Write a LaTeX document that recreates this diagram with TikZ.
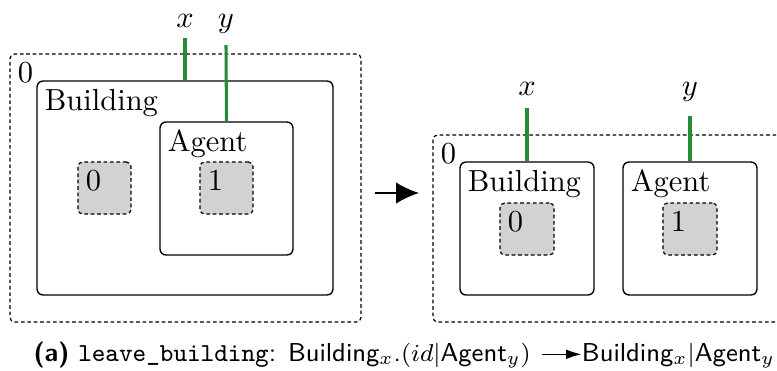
\documentclass[tikz,border=0pt]{standalone}
\usepackage{amsmath}
\usepackage{xcolor}
\usepackage{tikz}
\usetikzlibrary{shapes,arrows.meta,positioning,fit}
\definecolor{linkgreen}{RGB}{36,140,52}
\tikzstyle{region} = [draw, dash pattern=on 1.2pt off 0.9pt, rounded corners=1.5pt,
    inner sep=0pt, line width=0.4pt]
\tikzstyle{control} = [draw, rounded corners=2pt, inner sep=0pt, line width=0.45pt]
\tikzstyle{site} = [draw, fill=gray!35, dash pattern=on 1.2pt off 0.9pt,
    rounded corners=1.5pt, inner sep=0pt, line width=0.4pt]
\tikzstyle{tag} = [anchor=north west, inner sep=2.6pt, font=\fontsize{10}{12}\selectfont]
\tikzstyle{linkname} = [anchor=base, inner sep=0pt, font=\fontsize{10}{12}\selectfont]
\tikzstyle{link} = [draw, linkgreen, line width=1pt]
\tikzstyle{arrow} = [draw, -{Latex[length=7.5pt,width=7pt]}, line width=0.5pt]
\tikzstyle{caption} = [inner sep=0pt, font=\fontsize{8.5}{10}\sffamily]
\tikzstyle{capArrow} = [draw, -{Latex[length=5pt,width=3.2pt]}, line width=0.4pt]

\begin{document}
\begin{tikzpicture}[x=0.328pt, y=-0.328pt]
    \useasboundingbox (0,0) rectangle (777,370);
    % left: agent inside building
    \node [region, fit={(10,54) (361,322)}] (outerLeft) {};
    \node [tag] at (outerLeft.north west) {0};
    \node [control, fit={(37,81) (333,295)}] (buildingLeft) {};
    \node [tag] at (buildingLeft.north west) {Building};
    \node [control, fit={(160,122) (293,255)}] (agentLeft) {};
    \node [tag] at (agentLeft.north west) {Agent};
    \node [site, fit={(78,162) (131,214)}] (siteZeroLeft) {};
    \node [tag] at (siteZeroLeft.north west) {0};
    \node [site, fit={(200,162) (253,214)}] (siteOneLeft) {};
    \node [tag] at (siteOneLeft.north west) {1};

    \node [linkname] (xLeft) at (185,27) {$x$};
    \node [linkname] (yLeft) at (226,27) {$y$};
    \coordinate (xLeftEnd) at (185,38);
    \coordinate (yLeftEnd) at (226,45);
    \path [link] (xLeftEnd) -- (buildingLeft.north);
    \path [link] (yLeftEnd) -- (agentLeft.north);

    % reaction arrow
    \coordinate (ruleStart) at (375,193);
    \coordinate (ruleEnd) at (419,193);
    \path [arrow] (ruleStart) -- (ruleEnd);

    % right: agent beside building
    \node [region, fit={(433,135) (800,322)}] (outerRight) {};
    \node [tag] at (outerRight.north west) {0};
    \node [control, fill=white, fit={(460,162) (594,295)}] (buildingRight) {};
    \node [tag] at (buildingRight.north west) {Building};
    \node [control, fill=white, fit={(623,162) (757,295)}] (agentRight) {};
    \node [tag] at (agentRight.north west) {Agent};
    \node [site, fit={(500,203) (554,255)}] (siteZeroRight) {};
    \node [tag] at (siteZeroRight.north west) {0};
    \node [site, fit={(663,203) (717,255)}] (siteOneRight) {};
    \node [tag] at (siteOneRight.north west) {1};

    \node [linkname] (xRight) at (527,95) {$x$};
    \node [linkname] (yRight) at (690,95) {$y$};
    \coordinate (xRightEnd) at (527,108);
    \coordinate (yRightEnd) at (690,116);
    \path [link] (xRightEnd) -- (buildingRight.north);
    \path [link] (yRightEnd) -- (agentRight.north);

    % caption
    \node [caption, anchor=base west] (capLeft) at (33,361)
        {\textbf{(a)} \texttt{leave\_building}: Building$_x$.$(id|$Agent$_y)$};
    \node [caption, right=16.4pt of capLeft.base east, anchor=base west] (capRight)
        {Building$_x|$Agent$_y$};
    \path [capArrow] ([xshift=3.6pt, yshift=2.2pt]capLeft.base east)
        -- ([yshift=2.2pt]capRight.base west);
\end{tikzpicture}
\end{document}
